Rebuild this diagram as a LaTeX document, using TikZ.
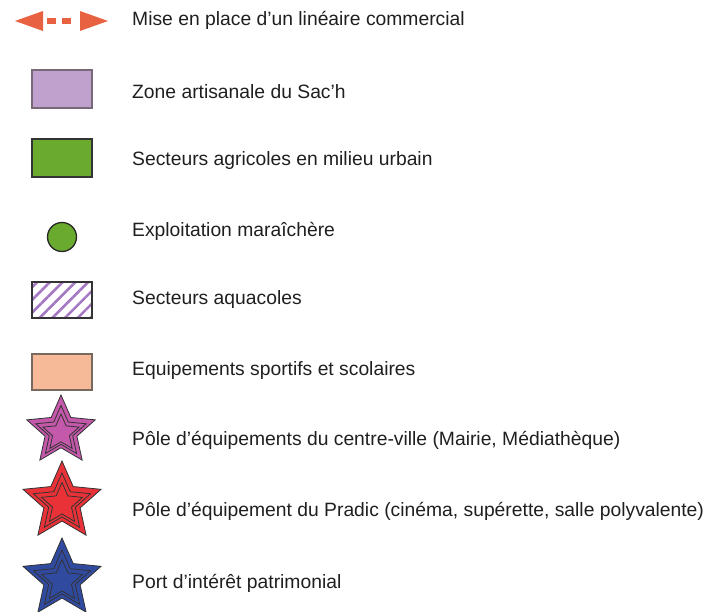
\documentclass[tikz,border=0pt]{standalone}
\usepackage{fontspec}
\setmainfont{Liberation Sans}
\usetikzlibrary{shapes.geometric,patterns.meta}
\definecolor{arrowc}{RGB}{232,98,66}
\definecolor{purplez}{RGB}{192,160,204}
\definecolor{purpleb}{RGB}{120,105,120}
\definecolor{greenz}{RGB}{106,170,47}
\definecolor{hatchc}{RGB}{165,120,195}
\definecolor{sportz}{RGB}{247,186,153}
\definecolor{sportb}{RGB}{120,105,95}
\definecolor{starpink}{RGB}{196,88,170}
\definecolor{starred}{RGB}{232,50,56}
\definecolor{starblue}{RGB}{48,74,160}
\tikzset{
  lbl/.style={anchor=west, inner sep=0pt, font=\fontsize{19.3}{21}\selectfont, text=black!88},
  legbox/.style={line width=1.3pt},
  st/.style={star, star points=5, star point ratio=2.15, inner sep=0pt, draw=black!80, line width=0.8pt},
}
\begin{document}
\begin{tikzpicture}[x=1pt,y=-1pt]
\useasboundingbox (0,0) rectangle (713,612);
% arrow
\fill[arrowc] (15,21) -- (43,11) -- (43,31) -- cycle;
\fill[arrowc] (47,18) rectangle (56,24);
\fill[arrowc] (62,18) rectangle (71,24);
\fill[arrowc] (108,21) -- (80,11) -- (80,31) -- cycle;
\node[lbl] (t1) at (132,20) {Mise en place d’un linéaire commercial};
% purple zone
\draw[legbox, draw=purpleb, fill=purplez] (32,70) rectangle (92,108);
\node[lbl] (t2) at (132,92) {Zone artisanale du Sac’h};
% green
\draw[legbox, draw=black!80, fill=greenz] (32,139) rectangle (92,177);
\node[lbl] (t3) at (132,161) {Secteurs agricoles en milieu urbain};
% circle
\draw[line width=1.3pt, draw=black!85, fill=greenz] (62,237) circle (14.5);
\node[lbl] (t4) at (132,231) {Exploitation maraîchère};
% hatched
\fill[pattern={Lines[angle=45,distance=9pt,line width=2.6pt]}, pattern color=hatchc] (32,282) rectangle (92,318);
\draw[legbox, draw=black!80] (32,282) rectangle (92,318);
\node[lbl] (t5) at (132,300) {Secteurs aquacoles};
% sports
\draw[legbox, draw=sportb, fill=sportz] (32,354) rectangle (92,390);
\node[lbl] (t6) at (132,371) {Equipements sportifs et scolaires};
% stars
\node[st, fill=starpink, minimum size=72pt] (s1a) at (61,431) {};
\node[st, minimum size=53pt] (s1b) at (61,432) {};
\node[st, minimum size=38pt] (s1c) at (61,433) {};
\node[lbl] (t7) at (132,440) {Pôle d’équipements du centre-ville (Mairie, Médiathèque)};
\node[st, fill=starred, minimum size=82pt] (s2a) at (62,502) {};
\node[st, minimum size=60pt] (s2b) at (62,503) {};
\node[st, minimum size=43pt] (s2c) at (62,504) {};
\node[lbl] (t8) at (132,511) {Pôle d’équipement du Pradic (cinéma, supérette, salle polyvalente)};
\node[st, fill=starblue, minimum size=82pt] (s3a) at (62,579) {};
\node[st, minimum size=60pt] (s3b) at (62,580) {};
\node[st, minimum size=43pt] (s3c) at (62,581) {};
\node[lbl] (t9) at (132,583) {Port d’intérêt patrimonial};
\end{tikzpicture}
\end{document}
